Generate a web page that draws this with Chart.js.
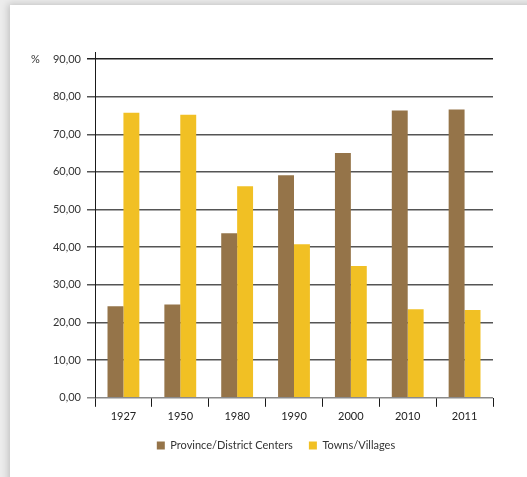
<!DOCTYPE html>
<html>
<head>
<meta charset="utf-8">
<script src="https://cdn.jsdelivr.net/npm/chart.js@4"></script>
<style>
  html, body { margin: 0; padding: 0; }
  body { width: 527px; height: 477px; background: #ececec; position: relative; overflow: hidden; }
  .card { position: absolute; left: 10px; top: 5px; width: 600px; height: 560px; background: #fff; box-shadow: -2px -1px 7px rgba(0,0,0,0.18); }
  #wrap { position: absolute; left: 0; top: 0; width: 527px; height: 477px; }
</style>
</head>
<body>
<div class="card"></div>
<div id="wrap"><canvas id="myBarChart"></canvas></div>
<script>
const years = ["1927", "1950", "1980", "1990", "2000", "2010", "2011"];
const provinceCenters = [24.3, 24.8, 43.7, 59.1, 65.0, 76.3, 76.6];
const townsVillages = [75.7, 75.2, 56.2, 40.8, 35.0, 23.5, 23.3];
const yMax = 90;
const yStep = 10;

const FONT = "Lato";

// draws the "%" unit and the short extension of the y axis above the top line
const axisExtras = {
  id: "axisExtras",
  afterLayout(chart) {
    // legend sits a bit right of the canvas centre in the original
    chart.legend.left += 39;
  },
  afterDraw(chart) {
    const { ctx, chartArea } = chart;
    const y = chart.scales.y;
    ctx.save();
    ctx.strokeStyle = "#1a1a1a";
    ctx.lineWidth = 1;
    ctx.beginPath();
    ctx.moveTo(chartArea.left + 0.5, chartArea.top - 7);
    ctx.lineTo(chartArea.left + 0.5, chartArea.bottom);
    ctx.stroke();
    ctx.fillStyle = "#333";
    ctx.font = "11px " + FONT;
    ctx.textAlign = "left";
    ctx.textBaseline = "middle";
    ctx.fillText("%", 31, y.getPixelForValue(yMax));
    ctx.restore();
  },
};

const ctx = document.getElementById("myBarChart");

new Chart(ctx, {
  type: "bar",
  data: {
    labels: years,
    datasets: [
      {
        label: "Province/District Centers",
        data: provinceCenters,
        backgroundColor: "#957449",
      },
      {
        label: "Towns/Villages",
        data: townsVillages,
        backgroundColor: "#f1c024",
      },
    ],
  },
  options: {
    responsive: true,
    maintainAspectRatio: false,
    animation: false,
    categoryPercentage: 0.56,
    barPercentage: 1.0,
    layout: {
      padding: { top: 59, left: 20, right: 34, bottom: 16 },
    },
    plugins: {
      legend: {
        position: "bottom",
        labels: {
          boxWidth: 8,
          boxHeight: 8,
          padding: 16,
          color: "#333",
          font: { family: FONT, size: 11 },
        },
      },
      tooltip: { enabled: false },
    },
    scales: {
      x: {
        offset: true,
        afterFit: (scale) => { scale.height -= 2; },
        grid: {
          display: true,
          offset: true,
          drawOnChartArea: false,
          drawTicks: true,
          tickLength: 9,
          color: "#1a1a1a",
        },
        border: { display: false },
        ticks: {
          padding: 3,
          color: "#222",
          font: { family: FONT, size: 11 },
        },
      },
      y: {
        min: 0,
        max: yMax,
        afterFit: (scale) => { scale.width = 75; },
        grid: {
          tickLength: 8,
          lineWidth: 1.5,
          color: (c) => (c.tick && c.tick.value === yMax ? "#222" : c.tick && c.tick.value === 0 ? "#8a8a8a" : "#555"),
        },
        border: { display: false },
        ticks: {
          stepSize: yStep,
          padding: 6,
          color: "#333",
          font: { family: FONT, size: 11 },
          callback: (v) => Number(v).toFixed(2).replace(".", ","),
        },
      },
    },
  },
  plugins: [axisExtras],
});
</script>
</body>
</html>
